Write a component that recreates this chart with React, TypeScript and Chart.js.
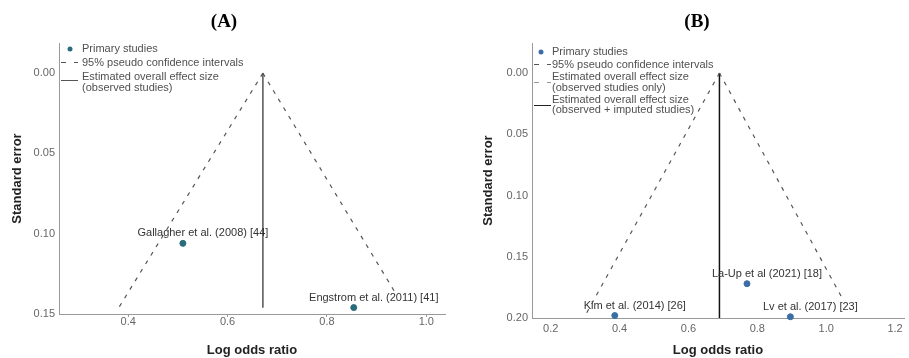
import React, { useEffect, useRef } from "react";
import { Chart, registerables } from "chart.js";

Chart.register(...registerables);

// ---------- Data: panel A ----------
const studyNamesA = ["Gallagher et al. (2008) [44]", "Engstrom et al. (2011) [41]"];
const logOddsA = [0.51, 0.854];
const seA = [0.106, 0.146];
const pooledXA = [0.671, 0.671];
const pooledSeA = [0, 0.146];
const funnelLeftXA = [0.671, 0.381];
const funnelLeftSeA = [0, 0.146];
const funnelRightXA = [0.671, 0.938];
const funnelRightSeA = [0, 0.137];
const xTicksA = [0.4, 0.6, 0.8, 1.0];
const yTicksA = [0, 0.05, 0.1, 0.15];
const legendA = ["Primary studies", "95% pseudo confidence intervals", "Estimated overall effect size", "(observed studies)"];

// ---------- Data: panel B ----------
const studyNamesB = ["Kim et al. (2014) [26]", "La-Up et al (2021) [18]", "Lv et al. (2017) [23]"];
const logOddsB = [0.386, 0.77, 0.896];
const seB = [0.198, 0.172, 0.199];
const pooledXB = [0.69, 0.69];
const pooledSeB = [0, 0.2];
const funnelLeftXB = [0.69, 0.3];
const funnelLeftSeB = [0, 0.198];
const funnelRightXB = [0.69, 1.045];
const funnelRightSeB = [0, 0.183];
const xTicksB = [0.2, 0.4, 0.6, 0.8, 1.0, 1.2];
const yTicksB = [0, 0.05, 0.1, 0.15, 0.2];
const legendB = [
  "Primary studies",
  "95% pseudo confidence intervals",
  "Estimated overall effect size",
  "(observed studies only)",
  "Estimated overall effect size",
  "(observed + imputed studies)",
];

const SANS = "'Liberation Sans', Arial, sans-serif";
const SERIF = "'Liberation Serif', 'Times New Roman', serif";

const zip = (xs: number[], ys: number[]) => xs.map((x, i) => ({ x, y: ys[i] }));

type LegendSym = { kind: "dot" | "dash" | "lightdash" | "solid"; y: number };

const overlayPlugin = {
  id: "overlay",
  afterDraw(chart: any, _args: any, opts: any) {
    const ctx: CanvasRenderingContext2D = chart.ctx;
    const xs = chart.scales.x;
    const ys = chart.scales.y;
    const left = chart.chartArea.left;
    ctx.save();
    // panel title
    ctx.font = `bold 19px ${SERIF}`;
    ctx.fillStyle = "#000";
    ctx.textAlign = "center";
    ctx.textBaseline = "middle";
    ctx.fillText(opts.title, opts.titleX, 22);

    // point labels
    ctx.font = `11px ${SANS}`;
    ctx.fillStyle = "#333";
    opts.names.forEach((n: string, i: number) => {
      const px = xs.getPixelForValue(opts.px[i]);
      const py = ys.getPixelForValue(opts.py[i]);
      ctx.fillText(n, px + 20, py - 10);
    });

    // legend
    ctx.textAlign = "left";
    ctx.fillStyle = "#505050";
    opts.legend.forEach((t: string, i: number) => {
      ctx.fillText(t, left + opts.legTextDx, opts.legRows[i]);
    });
    (opts.legSyms as LegendSym[]).forEach((s) => {
      ctx.beginPath();
      if (s.kind === "dot") {
        ctx.fillStyle = opts.pointColor;
        ctx.arc(left + opts.legDotDx, s.y, 2.5, 0, Math.PI * 2);
        ctx.fill();
      } else {
        ctx.setLineDash(s.kind === "solid" ? [] : [5, 8]);
        ctx.strokeStyle = s.kind === "lightdash" ? "#999" : s.kind === "solid" ? opts.solidColor : "#555";
        ctx.lineWidth = 1;
        ctx.moveTo(left + 2, s.y + 0.5);
        ctx.lineTo(left + 19, s.y + 0.5);
        ctx.stroke();
        ctx.setLineDash([]);
      }
    });
    ctx.restore();
  },
};

type PanelCfg = {
  w: number;
  padRight: number;
  xMin: number;
  xMax: number;
  yMin: number;
  yMax: number;
  xTicks: number[];
  yTicks: number[];
  yAxisW: number;
  xAxisH: number;
  yTitlePad: number;
  xTickMarks: boolean;
  xTickPad: number;
  funnelL: { x: number; y: number }[];
  funnelR: { x: number; y: number }[];
  pooled: { x: number; y: number }[];
  pooledColor: string;
  pooledWidth: number;
  solidColor: string;
  pointColor: string;
  names: string[];
  px: number[];
  py: number[];
  title: string;
  titleX: number;
  legend: string[];
  legRows: number[];
  legSyms: LegendSym[];
  legTextDx: number;
  legDotDx: number;
};

function Panel({ cfg }: { cfg: PanelCfg }) {
  const ref = useRef<HTMLCanvasElement>(null);
  useEffect(() => {
    const funnelStyle = {
      showLine: true,
      borderColor: "#555",
      borderDash: [4, 6],
      borderWidth: 1.2,
      pointRadius: 0,
    };
    const chart = new Chart(ref.current as HTMLCanvasElement, {
      type: "scatter",
      data: {
        datasets: [
          { label: "funnelL", data: cfg.funnelL, ...funnelStyle } as any,
          { label: "funnelR", data: cfg.funnelR, ...funnelStyle } as any,
          {
            label: "pooled",
            data: cfg.pooled,
            showLine: true,
            borderColor: cfg.pooledColor,
            borderWidth: cfg.pooledWidth,
            pointRadius: 0,
          },
          {
            label: "studies",
            data: zip(cfg.px, cfg.py),
            showLine: false,
            pointRadius: 3,
            backgroundColor: cfg.pointColor,
            borderColor: cfg.pointColor,
            clip: false,
          } as any,
        ],
      },
      options: {
        responsive: false,
        animation: false,
        layout: { padding: { top: 43, right: cfg.padRight, left: 0, bottom: 0 } },
        plugins: {
          legend: { display: false },
          tooltip: { enabled: false },
          overlay: cfg,
        } as any,
        scales: {
          x: {
            type: "linear",
            min: cfg.xMin,
            max: cfg.xMax,
            afterBuildTicks: (s: any) => {
              s.ticks = cfg.xTicks.map((v) => ({ value: v }));
            },
            afterFit: (s: any) => {
              s.height = cfg.xAxisH;
            },
            ticks: {
              callback: (v: any) => Number(v).toFixed(1),
              font: { size: 11, family: SANS },
              color: "#666",
              padding: cfg.xTickPad,
              maxRotation: 0,
              autoSkip: false,
            },
            grid: {
              drawOnChartArea: false,
              drawTicks: cfg.xTickMarks,
              tickLength: 3,
              color: "#999",
            },
            border: { color: "#999" },
            title: {
              display: true,
              text: "Log odds ratio",
              font: { size: 13, weight: "bold", family: SANS },
              color: "#222",
              padding: { top: 0, bottom: 0 },
            },
          },
          y: {
            type: "linear",
            reverse: true,
            min: cfg.yMin,
            max: cfg.yMax,
            afterBuildTicks: (s: any) => {
              s.ticks = cfg.yTicks.map((v) => ({ value: v }));
            },
            afterFit: (s: any) => {
              s.width = cfg.yAxisW;
            },
            ticks: {
              callback: (v: any) => Number(v).toFixed(2),
              font: { size: 11, family: SANS },
              color: "#666",
              padding: 4,
              autoSkip: false,
            },
            grid: { drawOnChartArea: false, drawTicks: false, color: "#999" },
            border: { color: "#999" },
            title: {
              display: true,
              text: "Standard error",
              font: { size: 13, weight: "bold", family: SANS },
              color: "#222",
              padding: { top: cfg.yTitlePad, bottom: 0 },
            },
          },
        },
      },
      plugins: [overlayPlugin as any],
    });
    return () => chart.destroy();
  }, [cfg]);
  return <canvas ref={ref} width={cfg.w} height={358} style={{ display: "block" }} />;
}

const cfgA: PanelCfg = {
  w: 454,
  padRight: 9,
  xMin: 0.2606,
  xMax: 1.0377,
  yMin: -0.0188,
  yMax: 0.15,
  xTicks: xTicksA,
  yTicks: yTicksA,
  yAxisW: 59,
  xAxisH: 44,
  yTitlePad: 10,
  xTickMarks: true,
  xTickPad: -2,
  funnelL: zip(funnelLeftXA, funnelLeftSeA),
  funnelR: zip(funnelRightXA, funnelRightSeA),
  pooled: zip(pooledXA, pooledSeA),
  pooledColor: "#666",
  pooledWidth: 1,
  solidColor: "#555",
  pointColor: "#2b6c7c",
  names: studyNamesA,
  px: logOddsA,
  py: seA,
  title: "(A)",
  titleX: 224,
  legend: legendA,
  legRows: [49, 63, 77, 88],
  legSyms: [
    { kind: "dot", y: 49 },
    { kind: "dash", y: 62 },
    { kind: "solid", y: 80 },
  ],
  legTextDx: 23,
  legDotDx: 11,
};

const cfgB: PanelCfg = {
  w: 455,
  padRight: 0,
  xMin: 0.1456,
  xMax: 1.226,
  yMin: -0.0245,
  yMax: 0.2,
  xTicks: xTicksB,
  yTicks: yTicksB,
  yAxisW: 78,
  xAxisH: 40,
  yTitlePad: 27,
  xTickMarks: false,
  xTickPad: 4,
  funnelL: zip(funnelLeftXB, funnelLeftSeB),
  funnelR: zip(funnelRightXB, funnelRightSeB),
  pooled: zip(pooledXB, pooledSeB),
  pooledColor: "#111",
  pooledWidth: 1.5,
  solidColor: "#222",
  pointColor: "#3a6ea5",
  names: studyNamesB,
  px: logOddsB,
  py: seB,
  title: "(B)",
  titleX: 243,
  legend: legendB,
  legRows: [52, 65, 77, 88, 100, 110],
  legSyms: [
    { kind: "dot", y: 52 },
    { kind: "dash", y: 64 },
    { kind: "lightdash", y: 82 },
    { kind: "solid", y: 105 },
  ],
  legTextDx: 20,
  legDotDx: 9,
};

export default function App() {
  return (
    <div style={{ position: "absolute", left: 0, top: 0, width: 909, height: 358, display: "flex", background: "#fff" }}>
      <Panel cfg={cfgA} />
      <Panel cfg={cfgB} />
    </div>
  );
}
